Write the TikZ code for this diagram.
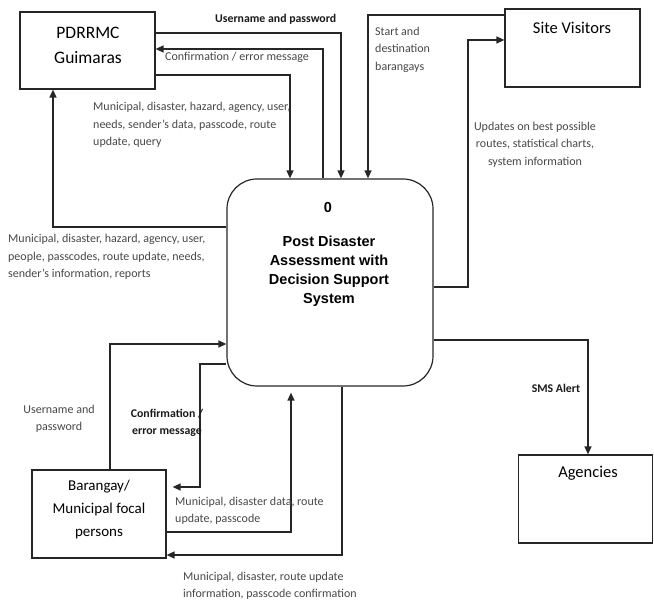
\documentclass[tikz,border=0pt]{standalone}
\usepackage{fontspec}
\setmainfont{Carlito}
\newfontfamily\arialf{Liberation Sans}
\usetikzlibrary{arrows.meta}
\definecolor{lbl}{HTML}{474747}
\definecolor{ln}{HTML}{262626}
\begin{document}
\begin{tikzpicture}[x=1pt,y=-1pt,
  ext/.style={draw=ln, line width=1.2pt, rectangle, inner sep=0pt},
  proc/.style={draw=ln, line width=1.2pt, rounded corners=30pt, inner sep=0pt, minimum width=206pt, minimum height=207pt},
  flow/.style={draw=ln, line width=1.4pt, -{Triangle[length=8pt,width=7pt]}},
  title/.style={font=\fontsize{16.5}{25}\selectfont, align=center, inner sep=0pt, text=black},
  lab/.style={font=\fontsize{12}{17.5}\selectfont, align=left, text=lbl, inner sep=0pt},
  blab/.style={font=\bfseries\fontsize{11.8}{17.5}\selectfont, text=black!90, inner sep=0pt, align=center},
]
\useasboundingbox (0,0) rectangle (654,601);

% entities
\node[ext, minimum width=135pt, minimum height=77pt] (pd) at (87.5,50.5) {};
\node[title, font=\fontsize{17.5}{25}\selectfont] (pdt) at (88,45.5) {PDRRMC\\Guimaras};
\node[ext, minimum width=135pt, minimum height=78pt] (sv) at (572.5,48) {};
\node[title] (svt) at (572,28) {Site Visitors};
\node[ext, minimum width=134pt, minimum height=88pt] (ag) at (585.5,499) {};
\node[title] (agt) at (588,473) {Agencies};
\node[ext, minimum width=134pt, minimum height=88pt] (bg) at (99,514) {};
\node[title, font=\fontsize{15}{23}\selectfont] (bgt) at (99,510) {Barangay/\\Municipal focal\\persons};

% process
\node[proc] (c) at (330,282.5) {};
\node[font=\arialf\bfseries\fontsize{14.5}{19}\selectfont, inner sep=0pt] (c0) at (328,208) {0};
\node[font=\arialf\bfseries\fontsize{14.5}{19}\selectfont, align=center, inner sep=0pt] (ct) at (329,271.5) {Post Disaster\\Assessment with\\Decision Support\\System};

% flows
\draw[flow] (pd.east |- 0,33) -| (c.north -| 341,0);
\draw[flow] (c.north -| 323,0) |- (pd.east |- 0,49);
\draw[flow] (pd.east |- 0,75) -| (c.north -| 290,0);
\draw[flow] (sv.west |- 0,15) -| (c.north -| 368,0);
\draw[flow] (c.east |- 0,287) -- (468,287) -- (468,40) -- (sv.west |- 0,40);
\draw[flow] (c.west |- 0,227) -| (pd.south -| 53,0);
\draw[flow] (bg.north -| 110,0) |- (c.west |- 0,344);
\draw[flow, shorten >=6pt] (c.west |- 0,364) -- (200,364) |- (bg.east |- 0,487);
\draw[flow, shorten >=6pt] (bg.east |- 0,532) -| (c.south -| 291,0);
\draw[flow] (c.south -| 342,0) |- (bg.east |- 0,555);
\draw[flow] (c.east |- 0,340) -| (ag.north -| 588,0);

% labels
\node[blab, anchor=west] (l1) at (215,19) {Username and password};
\node[lab, anchor=west] (l2) at (165,57) {Confirmation / error message};
\node[lab, anchor=west] (l3) at (93,125) {Municipal, disaster, hazard, agency, user,\\needs, sender’s data, passcode, route\\update, query};
\node[lab, anchor=west] (l4) at (375,49.5) {Start and\\destination\\barangays};
\node[lab, align=center] (l5) at (535,144.5) {Updates on best possible\\routes, statistical charts,\\system information};
\node[lab, anchor=west] (l6) at (8,257) {Municipal, disaster, hazard, agency, user,\\people, passcodes, route update, needs,\\sender’s information, reports};
\node[lab, align=center] (l7) at (59,419) {Username and\\password};
\node[blab] (l8) at (167,423) {Confirmation /\\error message};
\node[lab, anchor=west] (l9) at (175,511) {Municipal, disaster data, route\\update, passcode};
\node[lab, anchor=west] (l10) at (183,586) {Municipal, disaster, route update\\information, passcode confirmation};
\node[blab] (l11) at (556,388) {SMS Alert};
\end{tikzpicture}
\end{document}
